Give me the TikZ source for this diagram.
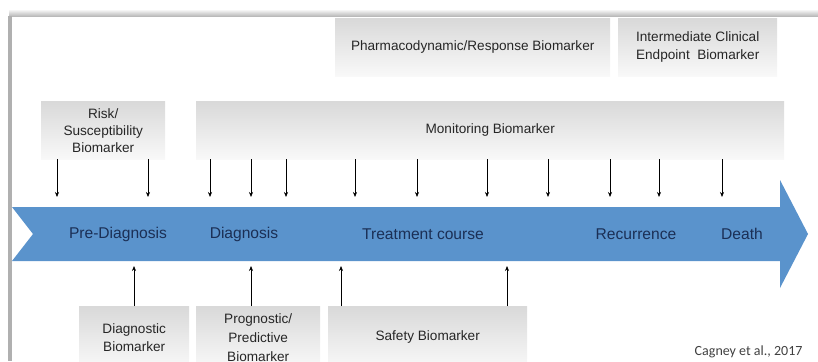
\documentclass[tikz,border=0pt]{standalone}
\usepackage{fontspec}
\setmainfont{Liberation Sans}
\newfontfamily\citefont{Carlito}
\usetikzlibrary{positioning,arrows.meta,calc}
\definecolor{stageBlue}{HTML}{5A93CC}
\definecolor{stageInk}{HTML}{1B2F55}
\definecolor{frameGray}{HTML}{B0B0B0}

\begin{document}
\begin{tikzpicture}[x=1pt, y=-1pt, >=Stealth, font=\fontsize{13.6}{18}\selectfont,
          marker/.style={inner sep=0pt, top color=gray!30, bottom color=gray!5, align=center, anchor=north west, text=black!85},
          stage/.style={text=stageInk, font=\fontsize{15.6}{17}\selectfont},
          link/.style={->, semithick, >={Stealth[length=5pt,width=4pt]}}]
        \useasboundingbox (0,0) rectangle (818,361);
        \clip (0,0) rectangle (818,361);
        % slide frame
        \fill[top color=white, bottom color=frameGray] (9,9) rectangle (818,17);
        \fill[frameGray] (8,16) rectangle (12,361);
        % timeline
        \fill[stageBlue] (12,207) -- (780,207) -- (780,180) -- (808,234) -- (780,288)
          -- (780,261) -- (12,261) -- (33,234) -- cycle;
        \coordinate (upper) at (0,197);
        \coordinate (lower) at (0,266);
        \node[stage] (pre) at (118,234) {Pre-Diagnosis};
        \node[stage] (diag) at (244,234) {Diagnosis};
        \node[stage] (treat) at (423,234) {Treatment course};
        \node[stage] (recur) at (636,234) {Recurrence};
        \node[stage] (death) at (742,234) {Death};
        % biomarkers above
        \node[marker, minimum width=275, minimum height=58] (pd) at (335,18) {Pharmacodynamic/Response Biomarker};
        \node[marker, minimum width=159, minimum height=58] (ice) at (618,18) {Intermediate Clinical\\ Endpoint\ \ Biomarker};
        \node[marker, minimum width=124, minimum height=58, font=\fontsize{13.6}{17}\selectfont] (risk) at (41,101) {Risk/\\ Susceptibility\\ Biomarker};
        \node[marker, minimum width=588, minimum height=58] (mon) at (196,101) {Monitoring Biomarker};
        \foreach \x in {57,148} { \draw[link] (risk.south -| \x,0) -- (upper -| \x,0); }
        \foreach \x in {210,251,286,355,417,487,548,610,659,722} { \draw[link] (mon.south -| \x,0) -- (upper -| \x,0); }
        % biomarkers below
        \node[marker, minimum width=110, minimum height=62] (dx) at (79,306) {Diagnostic\\ Biomarker};
        \node[marker, minimum width=124, minimum height=62, font=\fontsize{13.6}{19}\selectfont] (prog) at (196,306) {Prognostic/\\ Predictive\\ Biomarker};
        \node[marker, minimum width=199, minimum height=62] (safe) at (328,306) {Safety Biomarker};
        \draw[link] (dx.north -| 134,0) -- (lower -| 134,0);
        \draw[link] (prog.north -| 251,0) -- (lower -| 251,0);
        \foreach \x in {341,507} { \draw[link] (safe.north -| \x,0) -- (lower -| \x,0); }
        \node[anchor=east, font=\citefont\fontsize{14}{15}\selectfont, text=black!75] (cite) at (806,352) {Cagney et al., 2017};
      \end{tikzpicture}
\end{document}
